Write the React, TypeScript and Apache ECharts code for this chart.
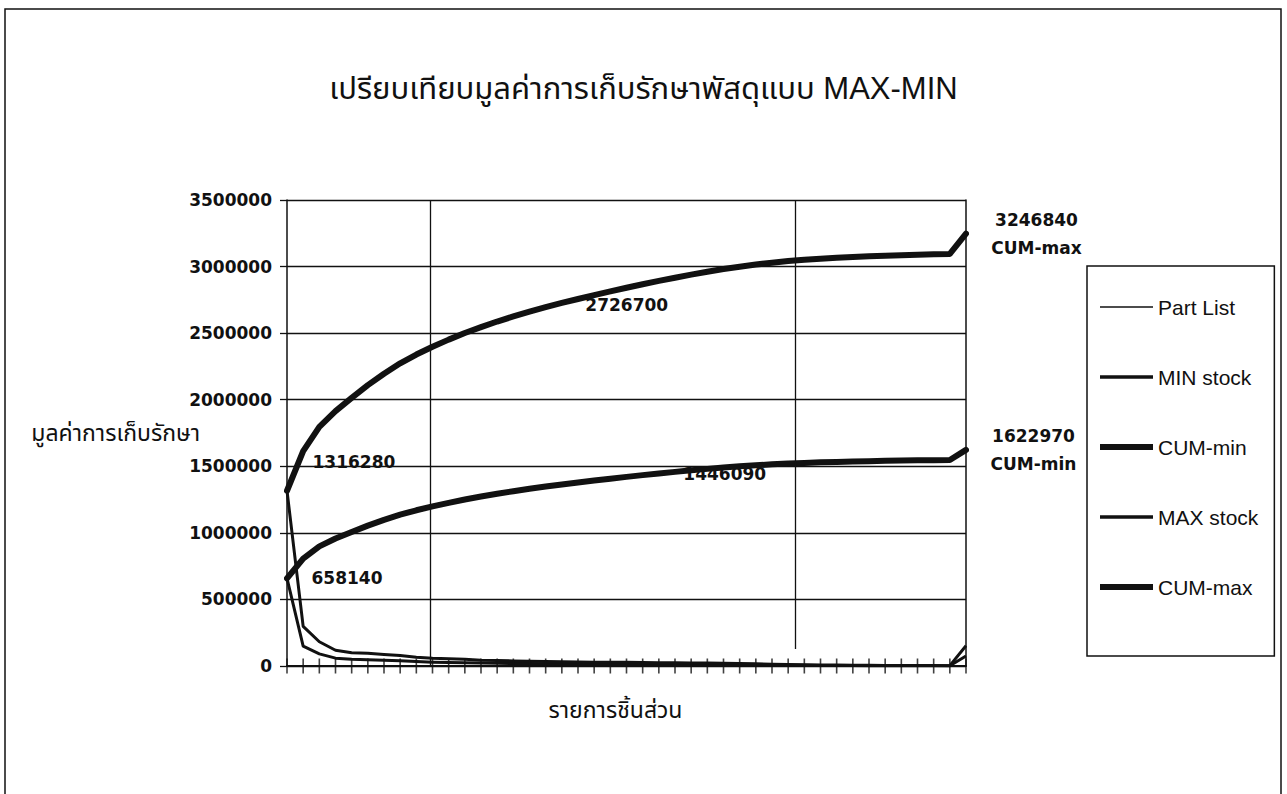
import React, { useEffect, useRef } from "react";
import * as echarts from "echarts";

// Item running numbers (the "Part List" series) and the stock values per item
const partList = [
  1, 2, 3, 4, 5, 6, 7, 8, 9, 10, 11, 12, 13, 14, 15, 16, 17, 18, 19, 20, 21, 22,
  23, 24, 25, 26, 27, 28, 29, 30, 31, 32, 33, 34, 35, 36, 37, 38, 39, 40, 41, 42, 43,
];

const minStock = [
  658140, 149000, 91000, 59000, 50000, 47500, 43000, 39000, 33000, 29000, 27000,
  25000, 22000, 21000, 19000, 18000, 17000, 15710, 15000, 14500, 14000, 13750,
  13000, 12490, 12000, 11500, 11000, 10000, 9000, 8000, 7000, 6000, 5000, 4000,
  3500, 3000, 2500, 2250, 2000, 1750, 1500, 1400, 75480,
];

const maxStock = [
  1316280, 298000, 182000, 118000, 100000, 95000, 86000, 78000, 66000, 58000,
  54000, 50000, 44000, 42000, 38000, 36000, 34000, 31420, 30000, 29000, 28000,
  27500, 26000, 24980, 24000, 23000, 22000, 20000, 18000, 16000, 14000, 12000,
  10000, 8000, 7000, 6000, 5000, 4500, 4000, 3500, 3000, 2800, 151860,
];

const cumMin = [
  658140, 807140, 898140, 957140, 1007140, 1054640, 1097640, 1136640, 1169640,
  1198640, 1225640, 1250640, 1272640, 1293640, 1312640, 1330640, 1347640,
  1363350, 1378350, 1392850, 1406850, 1420600, 1433600, 1446090, 1458090,
  1469590, 1480590, 1490590, 1499590, 1507590, 1514590, 1520590, 1525590,
  1529590, 1533090, 1536090, 1538590, 1540840, 1542840, 1544590, 1546090,
  1547490, 1622970,
];

const cumMax = [
  1316280, 1614280, 1796280, 1914280, 2014280, 2109280, 2195280, 2273280,
  2339280, 2397280, 2451280, 2501280, 2545280, 2587280, 2625280, 2661280,
  2695280, 2726700, 2756700, 2785700, 2813700, 2841200, 2867200, 2892180,
  2916180, 2939180, 2961180, 2981180, 2999180, 3015180, 3029180, 3041180,
  3051180, 3059180, 3066180, 3072180, 3077180, 3081680, 3085680, 3089180,
  3092180, 3094980, 3246840,
];

const seriesNames = ["Part List", "MIN stock", "CUM-min", "MAX stock", "CUM-max"];
const yMin = 0;
const yMax = 3500000;
const yStep = 500000;

const titleText = "เปรียบเทียบมูลค่าการเก็บรักษาพัสดุแบบ MAX-MIN";
const yName = "มูลค่าการเก็บรักษา";
const xName = "รายการชิ้นส่วน";

const THAI_FONT = "'Liberation Sans', 'Noto Sans Thai', 'Noto Sans', Loma, Garuda, sans-serif";
const NUM_FONT = "'DejaVu Sans', 'Liberation Sans', sans-serif";
const INK = "#111";

const toPoints = (arr: number[]) => arr.map((v, i) => [i, v]);
const lastIndex = partList.length - 1;

// Legend swatches: a bar whose height is the line's weight
const swatch = (h: number) => `path://M0,0H53V${h}H0Z`;

const numLabel = {
  show: true,
  position: "right" as const,
  color: INK,
  fontFamily: NUM_FONT,
  fontWeight: "bold" as const,
  fontSize: 17,
  formatter: (p: any) => String(p.value),
};

const hiddenMark = {
  symbol: "circle",
  symbolSize: 1,
  itemStyle: { color: "rgba(0,0,0,0)" },
  silent: true,
};

export default function App() {
  const ref = useRef<HTMLDivElement>(null);

  useEffect(() => {
    if (!ref.current) return;
    const chart = echarts.init(ref.current, undefined, { renderer: "svg" });

    chart.setOption({
      animation: false,
      backgroundColor: "#fff",
      title: {
        text: titleText,
        left: "center",
        top: 68,
        textStyle: {
          fontFamily: THAI_FONT,
          fontSize: 31,
          fontWeight: "normal",
          color: INK,
        },
      },
      grid: { left: 287, right: 321, top: 200, bottom: 128 },
      legend: {
        orient: "vertical",
        left: 1087,
        top: 266,
        padding: [30, 16, 58, 13],
        borderColor: INK,
        borderWidth: 1.5,
        itemWidth: 53,
        itemHeight: 14,
        itemGap: 48,
        itemTextGap: 3,
        textStyle: {
          fontFamily: "'Liberation Sans', Arial, sans-serif",
          fontSize: 21,
          lineHeight: 22,
          color: INK,
        },
        data: [
          { name: seriesNames[0], icon: swatch(1.5) },
          { name: seriesNames[1], icon: swatch(3.5) },
          { name: seriesNames[2], icon: swatch(6) },
          { name: seriesNames[3], icon: swatch(3.5) },
          { name: seriesNames[4], icon: swatch(6) },
        ],
      },
      xAxis: {
        type: "value",
        min: 0,
        max: lastIndex,
        interval: 1,
        name: xName,
        nameLocation: "middle",
        nameGap: 32,
        nameTextStyle: {
          fontFamily: THAI_FONT,
          fontSize: 23,
          color: INK,
          padding: [0, 22, 0, 0],
        },
        axisLine: { show: true, onZero: false, lineStyle: { color: INK, width: 2 } },
        // category tick marks crossing the axis are drawn by the "ticks" series
        axisTick: { show: false },
        axisLabel: { show: false },
        splitLine: { show: false },
      },
      yAxis: [
        {
          type: "value",
          min: yMin,
          max: yMax,
          interval: yStep,
          name: yName,
          nameLocation: "middle",
          nameRotate: 0,
          nameGap: 87,
          nameMoveOverlap: false,
          nameTextStyle: { fontFamily: THAI_FONT, fontSize: 23, color: INK },
          axisLine: { show: true, lineStyle: { color: INK, width: 1.5 } },
          axisTick: { show: true, length: 7, lineStyle: { color: INK, width: 1.3 } },
          axisLabel: {
            margin: 15,
            color: INK,
            fontFamily: NUM_FONT,
            fontWeight: "bold",
            fontSize: 17,
            formatter: (v: number) => String(v),
          },
          splitLine: { show: true, lineStyle: { color: INK, width: 1.3 } },
        },
        {
          type: "value",
          min: yMin,
          max: yMax,
          interval: yStep,
          position: "right",
          axisLine: { show: true, lineStyle: { color: INK, width: 1.5 } },
          axisTick: { show: false },
          axisLabel: { show: false },
          splitLine: { show: false },
        },
      ],
      series: [
        {
          name: seriesNames[0],
          type: "line",
          z: 1,
          symbol: "none",
          data: toPoints(partList),
          lineStyle: { color: INK, width: 1.5 },
          itemStyle: { color: INK },
          markLine: {
            silent: true,
            symbol: "none",
            label: { show: false },
            lineStyle: { color: INK, width: 1.3, type: "solid" },
            data: [
              { xAxis: 8.84 },
              [{ coord: [31.42, yMax] }, { coord: [31.42, 127000] }],
            ],
          },
        },
        {
          name: seriesNames[1],
          type: "line",
          z: 3,
          symbol: "none",
          data: toPoints(minStock),
          lineStyle: { color: INK, width: 3, join: "round" },
          itemStyle: { color: INK },
        },
        {
          name: seriesNames[2],
          type: "line",
          z: 4,
          symbol: "none",
          data: toPoints(cumMin),
          lineStyle: { color: INK, width: 6, cap: "round", join: "round" },
          itemStyle: { color: INK },
          markPoint: {
            ...hiddenMark,
            label: numLabel,
            data: [
              { coord: [0, cumMin[0]], value: cumMin[0], label: { distance: 24 } },
              { coord: [23, cumMin[23]], value: cumMin[23], label: { distance: 24, offset: [0, 1] } },
              {
                coord: [lastIndex, cumMin[lastIndex]],
                value: cumMin[lastIndex],
                label: {
                  distance: 67,
                  align: "center",
                  lineHeight: 28,
                  formatter: (p: any) => `${p.value}\n${seriesNames[2]}`,
                },
              },
            ],
          },
        },
        {
          name: seriesNames[3],
          type: "line",
          z: 3,
          symbol: "none",
          data: toPoints(maxStock),
          lineStyle: { color: INK, width: 3, join: "round" },
          itemStyle: { color: INK },
        },
        {
          name: seriesNames[4],
          type: "line",
          z: 4,
          symbol: "none",
          data: toPoints(cumMax),
          lineStyle: { color: INK, width: 6, cap: "round", join: "round" },
          itemStyle: { color: INK },
          markPoint: {
            ...hiddenMark,
            label: numLabel,
            data: [
              { coord: [0, cumMax[0]], value: cumMax[0], label: { distance: 25, offset: [0, -29] } },
              { coord: [17, cumMax[17]], value: cumMax[17], label: { distance: 23, offset: [0, 2] } },
              {
                coord: [lastIndex, cumMax[lastIndex]],
                value: cumMax[lastIndex],
                label: {
                  distance: 70,
                  align: "center",
                  lineHeight: 28,
                  formatter: (p: any) => `${p.value}\n${seriesNames[4]}`,
                },
              },
            ],
          },
        },
        {
          // one short vertical mark per part, centred on the axis line
          name: "ticks",
          type: "scatter",
          z: 5,
          silent: true,
          clip: false,
          symbol: "rect",
          symbolSize: [1.6, 15],
          itemStyle: { color: INK },
          data: partList.map((_, i) => [i, 0]),
        },
      ],
      graphic: [
        {
          type: "rect",
          silent: true,
          z: 0,
          shape: { x: 5, y: 9, width: 1276, height: 800 },
          style: { fill: "none", stroke: INK, lineWidth: 1.5 },
        },
      ],
    });

    return () => chart.dispose();
  }, []);

  return (
    <div
      ref={ref}
      style={{ position: "fixed", left: 0, top: 0, width: 1287, height: 794 }}
    />
  );
}
